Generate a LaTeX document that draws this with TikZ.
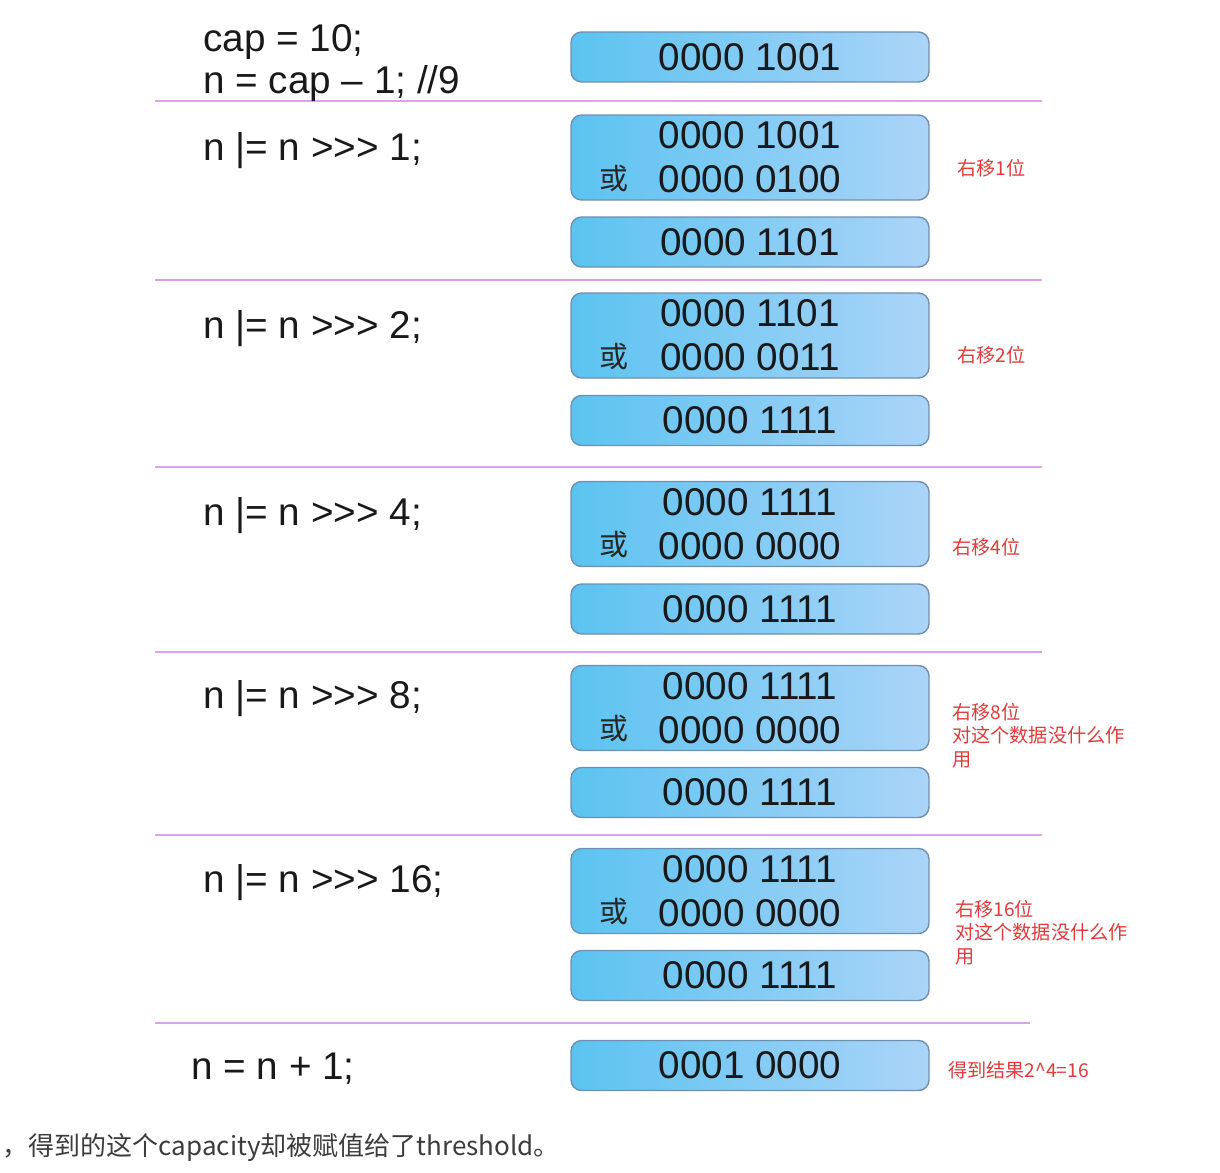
\documentclass[tikz,border=0pt]{standalone}
\usepackage{fontspec}
\setmainfont{Liberation Sans}
\newfontfamily\cjk{Noto Sans CJK SC}
\usepackage[x11names]{xcolor}
\usepackage{tikz}
\usetikzlibrary{positioning}

\definecolor{boxleft}{HTML}{5BC3F0}
\definecolor{boxright}{HTML}{ABD4F8}
\definecolor{boxedge}{HTML}{6F8FAE}
\definecolor{sepline}{HTML}{DDA3EA}
\definecolor{notered}{HTML}{E03A3A}
\definecolor{bottomgray}{HTML}{3C3C3C}

\begin{document}
\begin{tikzpicture}
    \tikzstyle{bit-box}=[rectangle, draw=boxedge, line width=0.8pt, rounded corners=6pt, left color=boxleft, right color=boxright, minimum width=7.16cm, minimum height=1.0cm, inner sep=0pt, text=black!90, font=\fontsize{22}{25}\selectfont, align=center]
    \tikzstyle{bit-pair}=[bit-box, minimum height=1.7cm]
    \tikzstyle{code-line}=[anchor=west, inner sep=0pt, font=\fontsize{22}{25}\selectfont, text=black!90]
    \tikzstyle{or-sign}=[inner sep=0pt, font=\cjk\fontsize{16.5}{18}\selectfont, text=black!85]
    \tikzstyle{note}=[anchor=west, inner sep=0pt, align=left, font=\cjk\fontsize{10.9}{13.4}\selectfont, text=notered]
    \tikzstyle{sep}=[line width=1.1pt, color=sepline]

    \useasboundingbox (0,0) rectangle (24.4,-23.44);

    % separators
    \draw[sep] (3.1,-2.02) -- (20.84,-2.02);
    \draw[sep] (3.1,-5.6) -- (20.84,-5.6);
    \draw[sep] (3.1,-9.34) -- (20.84,-9.34);
    \draw[sep] (3.1,-13.04) -- (20.84,-13.04);
    \draw[sep] (3.1,-16.7) -- (20.84,-16.7);
    \draw[sep] (3.1,-20.46) -- (20.6,-20.46);

    % start value
    \node[code-line] (cap-line) at (4.06,-0.84) {cap = 10;};
    \node[code-line] (minus-line) at (4.06,-1.68) {n = cap -- 1; //9};
    \node[bit-box] (start-val) at (15.0,-1.14) {0000 1001};

    % shift by 1
    \node[code-line] (shift-one) at (4.06,-3.02) {n |= n >{}>{}> 1;};
    \node[bit-pair] (shift-one-ops) at (15.0,-3.15) {0000 1001\\0000 0100};
    \node[or-sign] (shift-one-or) at ([xshift=-2.72cm, yshift=-0.42cm]shift-one-ops.center) {或};
    \node[bit-box] (shift-one-res) at (15.0,-4.84) {0000 1101};
    \node[note] (shift-one-note) at (19.14,-3.36) {右移1位};

    % shift by 2
    \node[code-line] (shift-two) at (4.06,-6.58) {n |= n >{}>{}> 2;};
    \node[bit-pair] (shift-two-ops) at (15.0,-6.71) {0000 1101\\0000 0011};
    \node[or-sign] (shift-two-or) at ([xshift=-2.72cm, yshift=-0.42cm]shift-two-ops.center) {或};
    \node[bit-box] (shift-two-res) at (15.0,-8.41) {0000 1111};
    \node[note] (shift-two-note) at (19.14,-7.1) {右移2位};

    % shift by 4
    \node[code-line] (shift-four) at (4.06,-10.32) {n |= n >{}>{}> 4;};
    \node[bit-pair] (shift-four-ops) at (15.0,-10.48) {0000 1111\\0000 0000};
    \node[or-sign] (shift-four-or) at ([xshift=-2.72cm, yshift=-0.42cm]shift-four-ops.center) {或};
    \node[bit-box] (shift-four-res) at (15.0,-12.18) {0000 1111};
    \node[note] (shift-four-note) at (19.04,-10.94) {右移4位};

    % shift by 8
    \node[code-line] (shift-eight) at (4.06,-13.98) {n |= n >{}>{}> 8;};
    \node[bit-pair] (shift-eight-ops) at (15.0,-14.16) {0000 1111\\0000 0000};
    \node[or-sign] (shift-eight-or) at ([xshift=-2.72cm, yshift=-0.42cm]shift-eight-ops.center) {或};
    \node[bit-box] (shift-eight-res) at (15.0,-15.85) {0000 1111};
    \node[note] (shift-eight-note) at (19.04,-14.71) {右移8位\\对这个数据没什么作\\用};

    % shift by 16
    \node[code-line] (shift-sixteen) at (4.06,-17.66) {n |= n >{}>{}> 16;};
    \node[bit-pair] (shift-sixteen-ops) at (15.0,-17.82) {0000 1111\\0000 0000};
    \node[or-sign] (shift-sixteen-or) at ([xshift=-2.72cm, yshift=-0.42cm]shift-sixteen-ops.center) {或};
    \node[bit-box] (shift-sixteen-res) at (15.0,-19.51) {0000 1111};
    \node[note] (shift-sixteen-note) at (19.1,-18.65) {右移16位\\对这个数据没什么作\\用};

    % plus one
    \node[code-line] (plus-one) at (3.82,-21.38) {n = n + 1;};
    \node[bit-box] (final-val) at (15.0,-21.31) {0001 0000};
    \node[note] (final-note) at (18.96,-21.4) {得到结果2\^{}4=16};

    \node[anchor=west, inner sep=0pt, font=\cjk\fontsize{14.8}{17}\selectfont, text=bottomgray] (bottom-line) at (0.05,-22.96) {，得到的这个capacity却被赋值给了threshold。};
\end{tikzpicture}
\end{document}
